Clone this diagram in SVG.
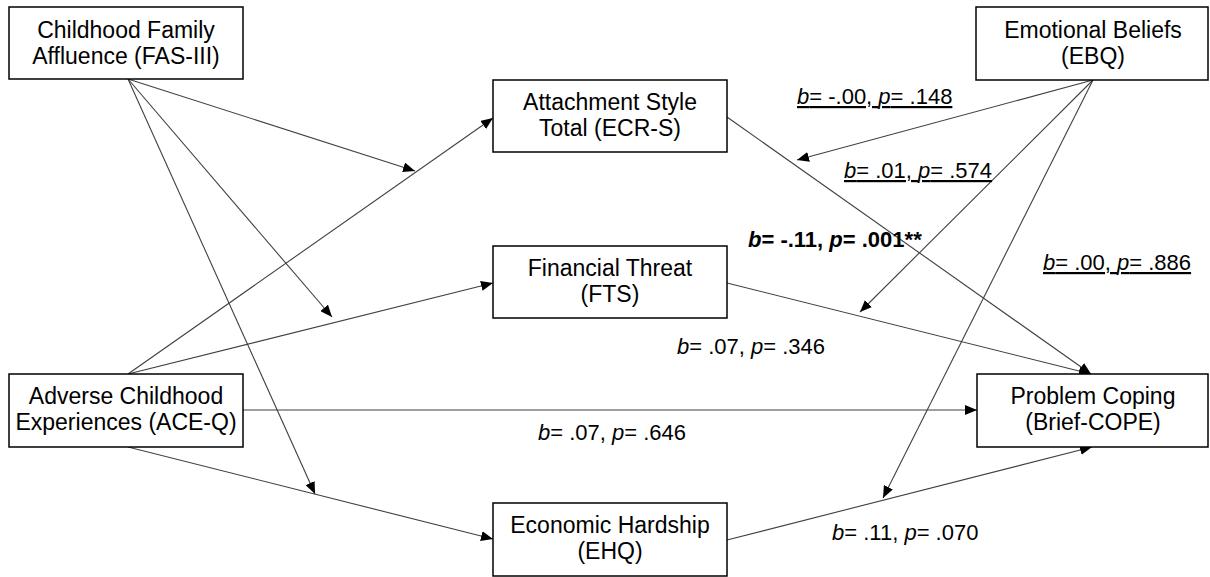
<svg xmlns="http://www.w3.org/2000/svg" width="1210" height="577" viewBox="0 0 1210 577">
<style>
.box{fill:#fff;stroke:#000;stroke-width:1.5}
.t{font-family:"Liberation Sans",Arial,sans-serif;font-size:23px;fill:#000;text-anchor:middle}
.l{font-family:"Liberation Sans",Arial,sans-serif;font-size:22px;fill:#000}
.i{font-style:italic}
.c line{stroke:#404040;stroke-width:1.1}
.a{marker-end:url(#ah)}
.u{text-decoration:underline}
</style>
<defs>
<marker id="ah" markerUnits="userSpaceOnUse" markerWidth="12" markerHeight="10" refX="12" refY="5" orient="auto">
<path d="M0,0 L12,5 L0,10 Z" fill="#000"/>
</marker>
</defs>
<rect width="1210" height="577" fill="#fff"/>
<g class="c">
<line class="a" x1="128" y1="79" x2="415" y2="171"/>
<line class="a" x1="128" y1="79" x2="332" y2="317"/>
<line class="a" x1="128" y1="79" x2="315" y2="494"/>
<line class="a" x1="128" y1="374" x2="493" y2="118"/>
<line class="a" x1="128" y1="374" x2="493" y2="283"/>
<line class="a" x1="243" y1="410" x2="977" y2="410"/>
<line class="a" x1="128" y1="447" x2="493" y2="539"/>
<line class="a" x1="727" y1="117" x2="1091" y2="374"/>
<line class="a" x1="727" y1="283" x2="1091" y2="374"/>
<line class="a" x1="727" y1="540" x2="1092" y2="447"/>
<line class="a" x1="1093" y1="80" x2="797" y2="160"/>
<line class="a" x1="1093" y1="80" x2="860" y2="312"/>
<line class="a" x1="1093" y1="80" x2="883" y2="498"/>
</g>
<g id="fas"><rect class="box" x="9" y="7" width="234" height="72"/><text class="t" x="126" y="38">Childhood Family</text><text class="t" x="126" y="64">Affluence (FAS-III)</text></g>
<g id="ebq"><rect class="box" x="976" y="7" width="232" height="73"/><text class="t" x="1093" y="38">Emotional Beliefs</text><text class="t" x="1093" y="64">(EBQ)</text></g>
<g id="ecr"><rect class="box" x="493" y="80" width="234" height="72"/><text class="t" x="610" y="110">Attachment Style</text><text class="t" x="610" y="136">Total (ECR-S)</text></g>
<g id="fts"><rect class="box" x="493" y="246" width="234" height="72"/><text class="t" x="610" y="276">Financial Threat</text><text class="t" x="610" y="302">(FTS)</text></g>
<g id="ace"><rect class="box" x="9" y="374" width="234" height="73"/><text class="t" x="126" y="404">Adverse Childhood</text><text class="t" x="126" y="430">Experiences (ACE-Q)</text></g>
<g id="cope"><rect class="box" x="977" y="374" width="231" height="73"/><text class="t" x="1093" y="404">Problem Coping</text><text class="t" x="1093" y="430">(Brief-COPE)</text></g>
<g id="ehq"><rect class="box" x="493" y="503" width="234" height="73"/><text class="t" x="610" y="533">Economic Hardship</text><text class="t" x="610" y="559">(EHQ)</text></g>
<g id="labels">
<text class="l u" x="797" y="104"><tspan class="i">b</tspan>= -.00, <tspan class="i">p</tspan>= .148</text>
<text class="l u" x="844" y="178"><tspan class="i">b</tspan>= .01, <tspan class="i">p</tspan>= .574</text>
<text class="l" x="748" y="247" font-weight="bold" font-size="23"><tspan class="i">b</tspan>= -.11, <tspan class="i">p</tspan>= .001**</text>
<text class="l u" x="1043" y="270"><tspan class="i">b</tspan>= .00, <tspan class="i">p</tspan>= .886</text>
<text class="l" x="677" y="354"><tspan class="i">b</tspan>= .07, <tspan class="i">p</tspan>= .346</text>
<text class="l" x="538" y="440"><tspan class="i">b</tspan>= .07, <tspan class="i">p</tspan>= .646</text>
<text class="l" x="832" y="540"><tspan class="i">b</tspan>= .11, <tspan class="i">p</tspan>= .070</text>
</g>
</svg>
